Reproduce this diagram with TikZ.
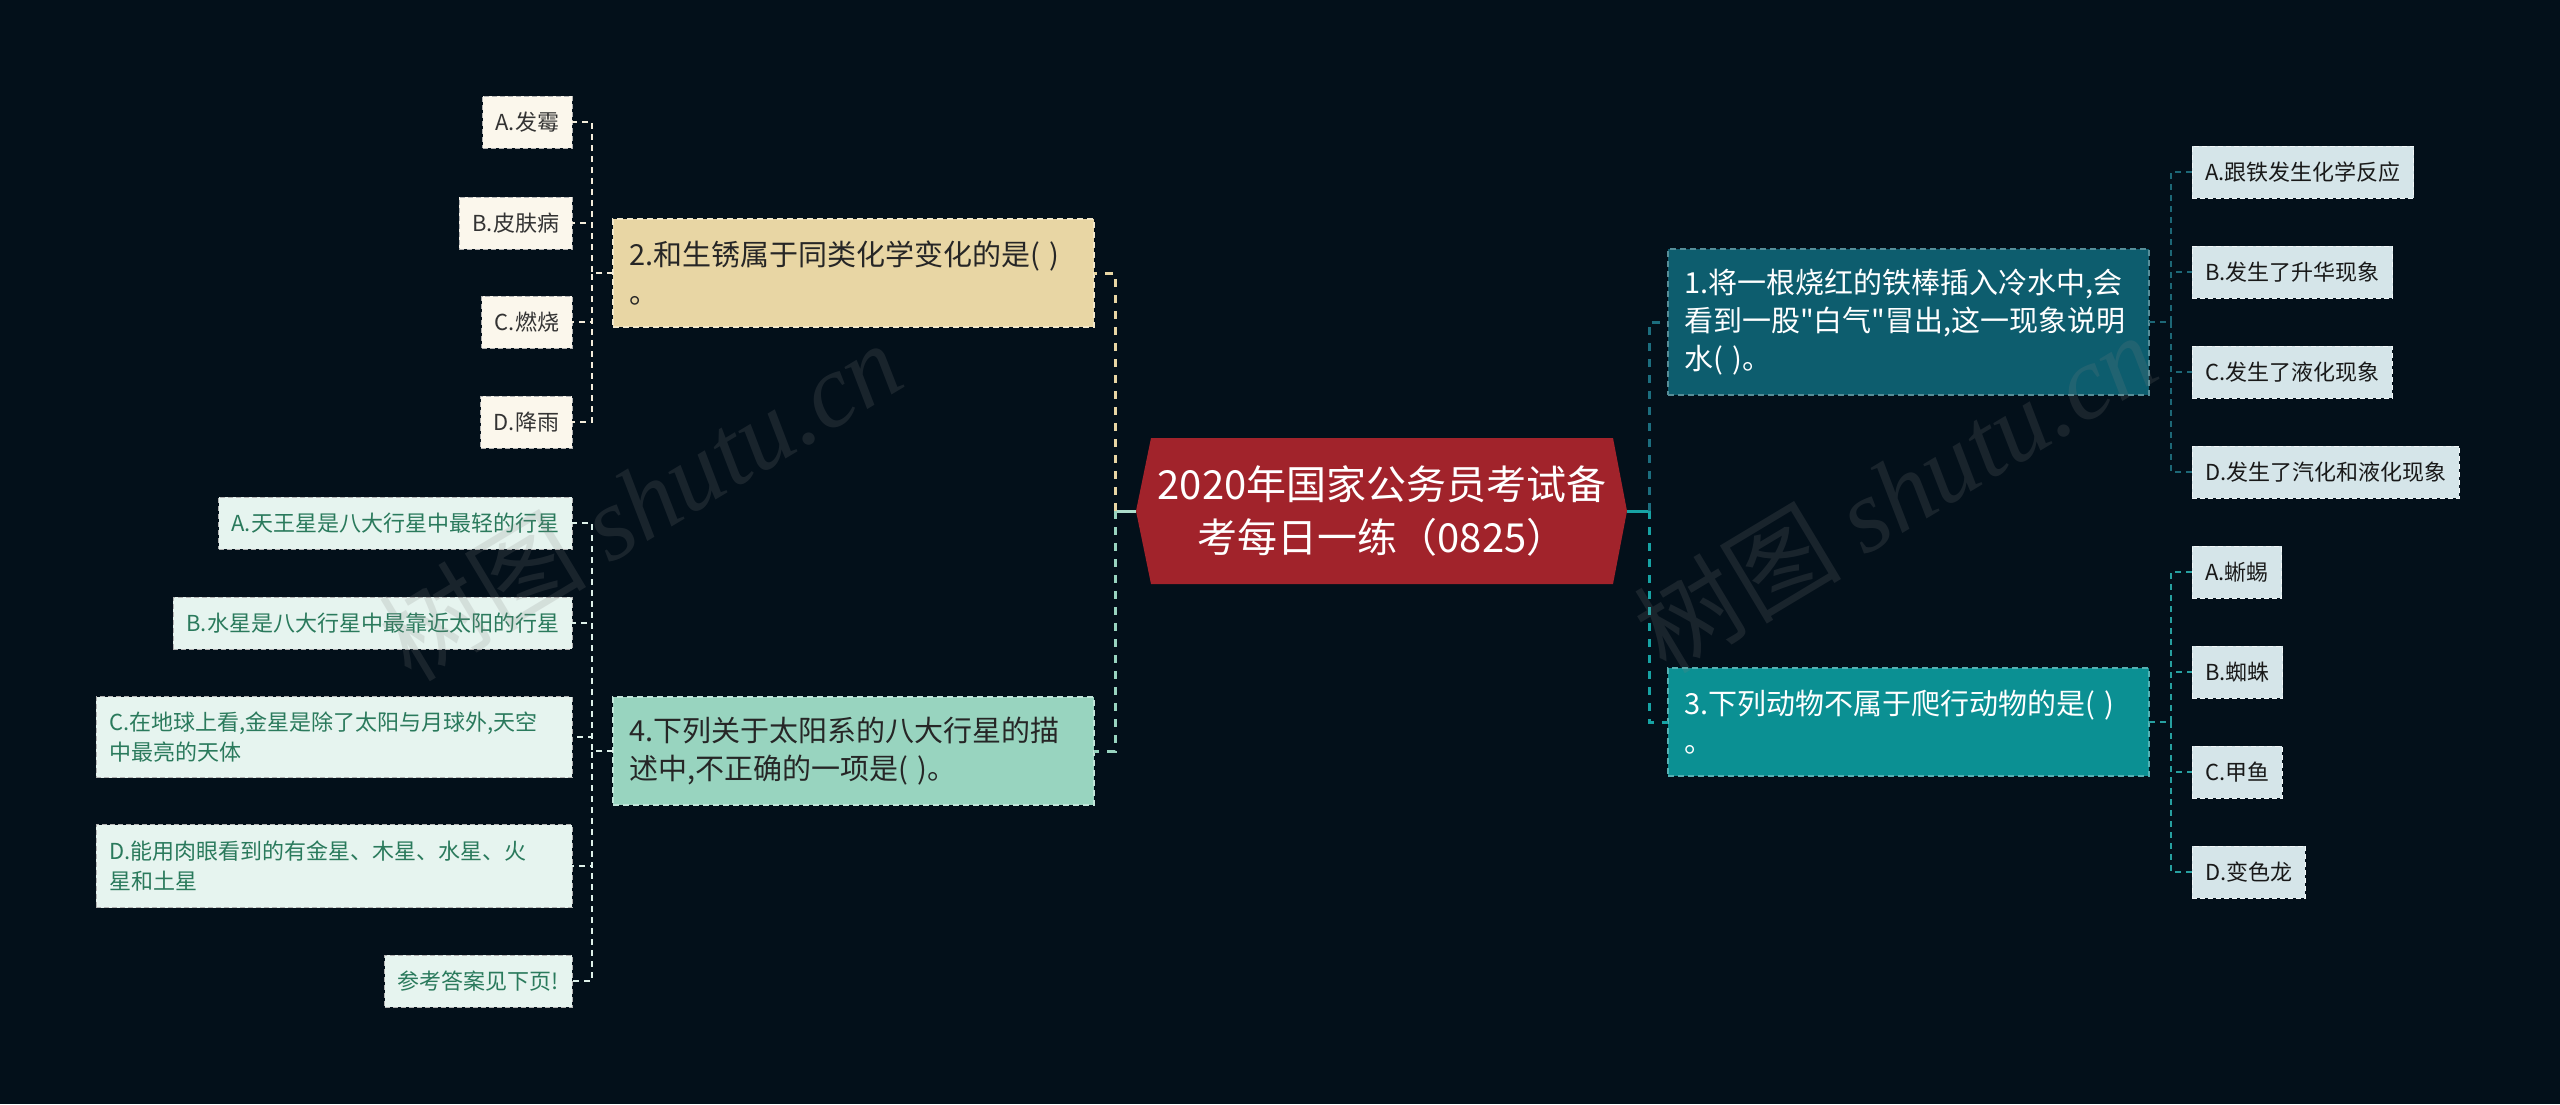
\documentclass[tikz,border=0pt]{standalone}
\usepackage{fontspec}
\newfontfamily\cjk{Noto Sans CJK SC}
\newfontfamily\wmfont{Liberation Serif}
\usetikzlibrary{backgrounds}
\definecolor{bgc}{HTML}{03101A}
\definecolor{rootred}{HTML}{A1232B}
\definecolor{tA}{HTML}{0D5D6E}
\definecolor{tAline}{HTML}{1C6E7F}
\definecolor{tB}{HTML}{0B9093}
\definecolor{tBline}{HTML}{17A3A4}
\definecolor{tC}{HTML}{E8D6A4}
\definecolor{tD}{HTML}{98D4BF}
\definecolor{leafR}{HTML}{D5E5E9}
\definecolor{leafC}{HTML}{FBF7EC}
\definecolor{leafD}{HTML}{E6F4EF}
\definecolor{leafDtext}{HTML}{2A7A5C}
\definecolor{lnA}{HTML}{1D6877}
\definecolor{lnB}{HTML}{27A0A0}
\definecolor{lnC}{HTML}{F3ECDA}
\definecolor{lnD}{HTML}{DDF0E9}
\begin{document}
\cjk
\begin{tikzpicture}[x=1pt,y=-1pt,
  every node/.style={inner sep=0pt,outer sep=0pt},
  rootnode/.style={minimum width=462pt,minimum height=146pt,align=center,text=white,
    font=\cjk\fontsize{40pt}{53pt}\selectfont},
  topic/.style={text width=449pt,inner xsep=16pt,align=left,
    font=\cjk\fontsize{29pt}{38pt}\selectfont,draw,dash pattern=on 6pt off 4pt,line width=1.2pt},
  leaf/.style={inner xsep=13pt,minimum height=52pt,align=left,
    font=\cjk\fontsize{22pt}{30pt}\selectfont,draw,dash pattern=on 5pt off 3pt,line width=1pt},
  leafRst/.style={leaf,anchor=west,fill=leafR,draw=white!70!leafR,text=black!90},
  leafCst/.style={leaf,anchor=east,fill=leafC,draw=white!40!gray,text=black!80},
  leafDst/.style={leaf,anchor=east,fill=leafD,draw=white!40!gray,text=leafDtext},
  trunk/.style={line width=3pt,dash pattern=on 8pt off 8pt},
  twig/.style={line width=2pt,dash pattern=on 6pt off 5pt},
  wm/.style={text=gray,text opacity=0.18,font=\cjk\fontsize{104pt}{104pt}\selectfont}]

\useasboundingbox (0,0) rectangle (2560,1104);

% root
\coordinate (rootL) at (1136,511);
\coordinate (rootR) at (1627,511);
\node[rootnode] (root) at (1382,511) {2020年国家公务员考试备\\考每日一练（0825）};

% topics
\node[topic,anchor=west,fill=tA,draw=tA!70!white,text=white,minimum height=146pt] (n1) at (1668,322)
  {1.将一根烧红的铁棒插入冷水中,会\\看到一股\symbol{34}白气\symbol{34}冒出,这一现象说明\\水(~)。};
\node[topic,anchor=west,fill=tB,draw=tB!70!white,text=white,minimum height=108pt] (n3) at (1668,722)
  {3.下列动物不属于爬行动物的是(~)\\。};
\node[topic,anchor=east,fill=tC,draw=tC!60!white,text=black!85,minimum height=108pt] (n2) at (1094,273)
  {2.和生锈属于同类化学变化的是(~)\\。};
\node[topic,anchor=east,fill=tD,draw=tD!60!white,text=black!85,minimum height=108pt] (n4) at (1094,751)
  {4.下列关于太阳系的八大行星的描\\述中,不正确的一项是(~)。};

% leaves right
\node[leafRst] (a1) at (2192,172) {A.跟铁发生化学反应};
\node[leafRst] (b1) at (2192,272) {B.发生了升华现象};
\node[leafRst] (c1) at (2192,372) {C.发生了液化现象};
\node[leafRst] (d1) at (2192,472) {D.发生了汽化和液化现象};
\node[leafRst] (a3) at (2192,572) {A.蜥蜴};
\node[leafRst] (b3) at (2192,672) {B.蜘蛛};
\node[leafRst] (c3) at (2192,772) {C.甲鱼};
\node[leafRst] (d3) at (2192,872) {D.变色龙};

% leaves left
\node[leafCst] (a2) at (572,122) {A.发霉};
\node[leafCst] (b2) at (572,223) {B.皮肤病};
\node[leafCst] (c2) at (572,322) {C.燃烧};
\node[leafCst] (d2) at (572,422) {D.降雨};
\node[leafDst] (a4) at (572,523) {A.天王星是八大行星中最轻的行星};
\node[leafDst] (b4) at (572,623) {B.水星是八大行星中最靠近太阳的行星};
\node[leafDst,text width=450pt,minimum height=81pt] (c4) at (572,737) {C.在地球上看,金星是除了太阳与月球外,天空\\中最亮的天体};
\node[leafDst,text width=450pt,minimum height=83pt] (d4) at (572,866) {D.能用肉眼看到的有金星、木星、水星、火\\星和土星};
\node[leafDst] (e4) at (572,981) {参考答案见下页!};

\begin{scope}[on background layer]
  \fill[bgc] (0,0) rectangle (2560,1104);
  \fill[rootred] (root.north west) -- (root.north east) -- (rootR) -- (root.south east)
    -- (root.south west) -- (rootL) -- cycle;
\end{scope}

% trunk connectors
\coordinate (jR) at (1649,511);
\coordinate (jL) at (1115,511);
\draw[line width=3pt,tBline] (rootR) -- (jR);
\draw[line width=3pt,tD!80!white] (rootL) -- (jL);
\draw[trunk,tAline] (jR) |- (n1.west);
\draw[trunk,tBline] (jR) |- (n3.west);
\draw[trunk,tC] (jL) |- (n2.east);
\draw[trunk,tD] (jL) |- (n4.east);

% twig connectors
\coordinate (k1) at (2171,322);
\coordinate (k3) at (2171,722);
\coordinate (k2) at (592,273);
\coordinate (k4) at (592,751);
\foreach \t in {a1,b1,c1,d1} \draw[twig,lnA] (n1.east) -- (k1) |- (\t.west);
\foreach \t in {a3,b3,c3,d3} \draw[twig,lnB] (n3.east) -- (k3) |- (\t.west);
\foreach \t in {a2,b2,c2,d2} \draw[twig,lnC] (n2.west) -- (k2) |- (\t.east);
\foreach \t in {a4,b4,c4,d4,e4} \draw[twig,lnD] (n4.west) -- (k4) |- (\t.east);

% watermarks
\node[wm,rotate=31] (wm1) at (640,500) {树图 {\wmfont\itshape shutu.cn}};
\node[wm,rotate=31] (wm2) at (1895,492) {树图 {\wmfont\itshape shutu.cn}};
\end{tikzpicture}
\end{document}
